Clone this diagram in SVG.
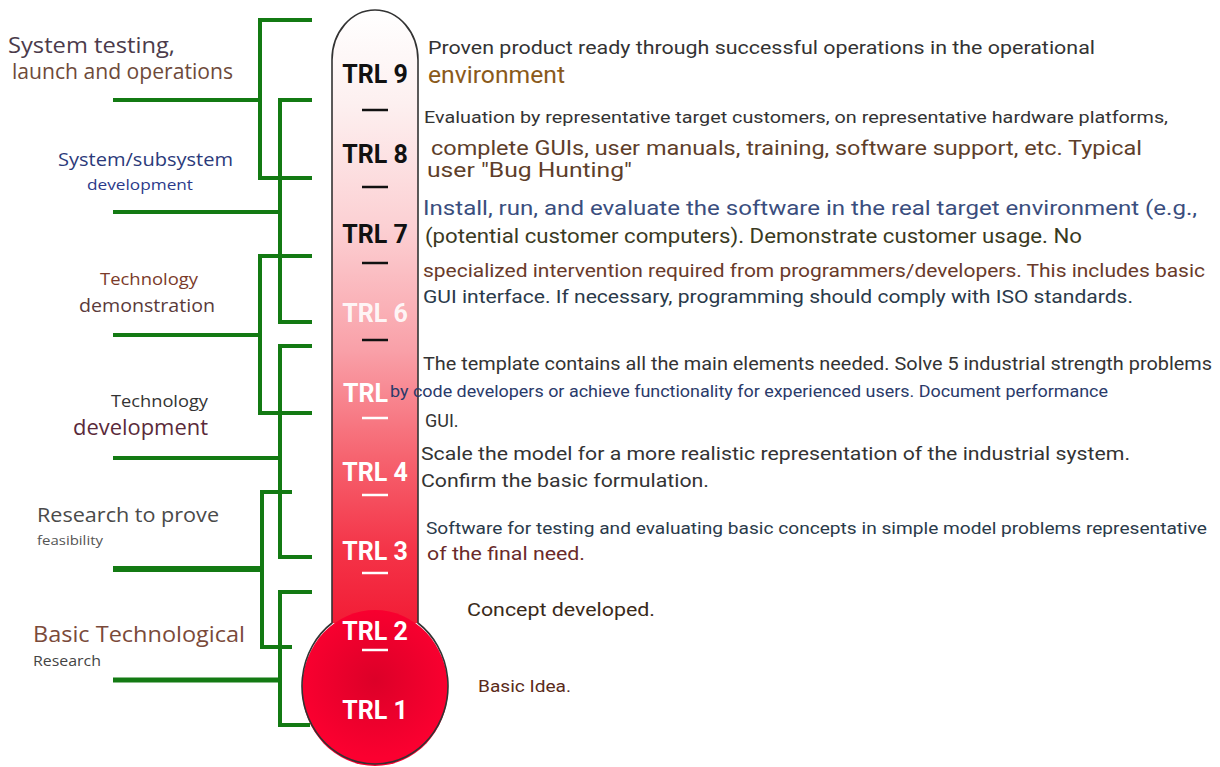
<svg xmlns="http://www.w3.org/2000/svg" width="1220" height="767" viewBox="0 0 1220 767">
<defs>
<linearGradient id="tube" x1="0" y1="10" x2="0" y2="630" gradientUnits="userSpaceOnUse">
<stop offset="0" stop-color="#ffffff"/>
<stop offset="0.15" stop-color="#fdf0f0"/>
<stop offset="0.35" stop-color="#fcd0d3"/>
<stop offset="0.55" stop-color="#f9a0a8"/>
<stop offset="0.72" stop-color="#f66470"/>
<stop offset="0.87" stop-color="#f43448"/>
<stop offset="1" stop-color="#f21a34"/>
</linearGradient>
<radialGradient id="bulb" cx="375" cy="680" r="78" gradientUnits="userSpaceOnUse">
<stop offset="0" stop-color="#dc0028"/>
<stop offset="1" stop-color="#fb0030"/>
</radialGradient>
<style>
.g{stroke:#137a13;stroke-width:4;fill:none;stroke-linecap:butt}
.trl{font-family:Roboto,"Liberation Sans",sans-serif;font-weight:bold;font-size:25px;text-anchor:middle}
.dk{fill:#111}
.wt{fill:#fff}
.dash{stroke-width:2.5}
.lbl{font-family:"Open Sans",Roboto,sans-serif}
.desc{font-family:Roboto,"Liberation Sans",sans-serif}
</style>
</defs>
<rect width="1220" height="767" fill="#fff"/>

<g id="connectors">
<polyline class="g" points="312,20 260,20 260,178 312,178"/>
<line class="g" x1="113" y1="100" x2="260" y2="100"/>
<polyline class="g" points="312,100 280,100 280,322 312,322"/>
<line class="g" x1="113" y1="212" x2="280" y2="212"/>
<polyline class="g" points="312,256 260,256 260,413 312,413"/>
<line class="g" x1="113" y1="335" x2="260" y2="335"/>
<polyline class="g" points="312,346 280,346 280,557 312,557"/>
<line class="g" x1="113" y1="458" x2="280" y2="458"/>
<polyline class="g" points="292,492 262,492 262,647 292,647"/>
<line class="g" x1="113" y1="569" x2="262" y2="569" style="stroke-width:6"/>
<polyline class="g" points="312,592 280,592 280,725 310,725"/>
<line class="g" x1="113" y1="680" x2="280" y2="680" style="stroke-width:5"/>
</g>

<g id="thermometer">
<path d="M332,623 L332,60 A43,50 0 0 1 418,60 L418,623 Z" fill="url(#tube)"/>
<ellipse cx="375" cy="688" rx="73" ry="78" fill="url(#bulb)"/>
<path d="M332,623 L332,60 A43,50 0 0 1 418,60 L418,623 A73,78 0 1 1 332,623 Z" fill="none" stroke="#333" stroke-width="1.6"/>
<g class="dash" stroke="#111">
<line x1="362" y1="110" x2="388" y2="110"/>
<line x1="362" y1="187" x2="388" y2="187"/>
<line x1="362" y1="263" x2="388" y2="263"/>
<line x1="362" y1="340" x2="388" y2="340"/>
</g>
<g class="dash" stroke="#fff">
<line x1="362" y1="418" x2="388" y2="418"/>
<line x1="362" y1="495" x2="388" y2="495"/>
<line x1="362" y1="573" x2="388" y2="573"/>
<line x1="362" y1="650" x2="388" y2="650"/>
</g>
</g>

<g id="trl9"><text class="trl dk" x="375" y="83">TRL 9</text></g>
<g id="trl8"><text class="trl dk" x="375" y="163">TRL 8</text></g>
<g id="trl7"><text class="trl dk" x="375" y="243">TRL 7</text></g>
<g id="trl6"><text class="trl wt" x="375" y="322" fill-opacity="0.9">TRL 6</text></g>
<g id="trl5"><text class="trl wt" x="343" y="402" style="text-anchor:start">TRL</text></g>
<g id="trl4"><text class="trl wt" x="375" y="481">TRL 4</text></g>
<g id="trl3"><text class="trl wt" x="375" y="560">TRL 3</text></g>
<g id="trl2"><text class="trl wt" x="375" y="640">TRL 2</text></g>
<g id="trl1"><text class="trl wt" x="375" y="719">TRL 1</text></g>

<g id="phase-system-testing" class="lbl">
<text x="8" y="53" font-size="21" fill="#4b3b4b" textLength="167" lengthAdjust="spacingAndGlyphs">System testing,</text>
<text x="12" y="79" font-size="21" fill="#6e4a3a" textLength="221" lengthAdjust="spacingAndGlyphs">launch and operations</text>
</g>
<g id="phase-subsystem" class="lbl">
<text x="58" y="166" font-size="18" fill="#2b3a7a" textLength="175" lengthAdjust="spacingAndGlyphs">System/subsystem</text>
<text x="87" y="190" font-size="15" fill="#2b3a8a" textLength="106" lengthAdjust="spacingAndGlyphs">development</text>
</g>
<g id="phase-tech-demo" class="lbl">
<text x="100" y="285" font-size="17" fill="#7a3a2a" textLength="98" lengthAdjust="spacingAndGlyphs">Technology</text>
<text x="79" y="312" font-size="19" fill="#5a3a3a" textLength="136" lengthAdjust="spacingAndGlyphs">demonstration</text>
</g>
<g id="phase-tech-dev" class="lbl">
<text x="111" y="407" font-size="17" fill="#333" textLength="97" lengthAdjust="spacingAndGlyphs">Technology</text>
<text x="73" y="435" font-size="21" fill="#5a2a3a" textLength="135" lengthAdjust="spacingAndGlyphs">development</text>
</g>
<g id="phase-research" class="lbl">
<text x="37" y="522" font-size="20" fill="#4a4a4a" textLength="182" lengthAdjust="spacingAndGlyphs">Research to prove</text>
<text x="37" y="545" font-size="13" fill="#555" textLength="66" lengthAdjust="spacingAndGlyphs">feasibility</text>
</g>
<g id="phase-basic" class="lbl">
<text x="33" y="642" font-size="22" fill="#7a4a3a" textLength="212" lengthAdjust="spacingAndGlyphs">Basic Technological</text>
<text x="33" y="666" font-size="14" fill="#444" textLength="68" lengthAdjust="spacingAndGlyphs">Research</text>
</g>

<g id="desc9" class="desc">
<text x="428" y="54" font-size="19" fill="#333" textLength="667" lengthAdjust="spacingAndGlyphs">Proven product ready through successful operations in the operational</text>
<text x="428" y="83" font-size="23" fill="#8a5a1a" textLength="137" lengthAdjust="spacingAndGlyphs">environment</text>
</g>
<g id="desc8" class="desc">
<text x="424" y="123" font-size="16.5" fill="#333" textLength="744" lengthAdjust="spacingAndGlyphs">Evaluation by representative target customers, on representative hardware platforms,</text>
<text x="431" y="155" font-size="21" fill="#5e3e2a" textLength="711" lengthAdjust="spacingAndGlyphs">complete GUIs, user manuals, training, software support, etc. Typical</text>
<text x="427" y="177" font-size="21" fill="#5e3e2a" textLength="205" lengthAdjust="spacingAndGlyphs">user "Bug Hunting"</text>
</g>
<g id="desc7" class="desc">
<text x="423" y="215" font-size="20" fill="#3a4e7e" textLength="774" lengthAdjust="spacingAndGlyphs">Install, run, and evaluate the software in the real target environment (e.g.,</text>
<text x="425" y="243" font-size="20" fill="#3a3a22" textLength="657" lengthAdjust="spacingAndGlyphs">(potential customer computers). Demonstrate customer usage. No</text>
</g>
<g id="desc6" class="desc">
<text x="423" y="277" font-size="18" fill="#6a3a2a" textLength="782" lengthAdjust="spacingAndGlyphs">specialized intervention required from programmers/developers. This includes basic</text>
<text x="423" y="303" font-size="18" fill="#2a3a4a" textLength="710" lengthAdjust="spacingAndGlyphs">GUI interface. If necessary, programming should comply with ISO standards.</text>
</g>
<g id="desc5" class="desc">
<text x="423" y="370" font-size="18.5" fill="#333" textLength="789" lengthAdjust="spacingAndGlyphs">The template contains all the main elements needed. Solve 5 industrial strength problems</text>
<text x="390" y="397" font-size="16" fill="#2a3a6a" textLength="718" lengthAdjust="spacingAndGlyphs">by code developers or achieve functionality for experienced users. Document performance</text>
<text x="425" y="427" font-size="18" fill="#333">GUI.</text>
</g>
<g id="desc4" class="desc">
<text x="421" y="460" font-size="19" fill="#333" textLength="709" lengthAdjust="spacingAndGlyphs">Scale the model for a more realistic representation of the industrial system.</text>
<text x="421" y="487" font-size="19" fill="#333" textLength="288" lengthAdjust="spacingAndGlyphs">Confirm the basic formulation.</text>
</g>
<g id="desc3" class="desc">
<text x="426" y="534" font-size="17" fill="#2a3a4a" textLength="781" lengthAdjust="spacingAndGlyphs">Software for testing and evaluating basic concepts in simple model problems representative</text>
<text x="427" y="560" font-size="19" fill="#6a2a2a" textLength="158" lengthAdjust="spacingAndGlyphs">of the final need.</text>
</g>
<g id="desc2" class="desc">
<text x="467" y="616" font-size="18" fill="#3a2a1a" textLength="188" lengthAdjust="spacingAndGlyphs">Concept developed.</text>
</g>
<g id="desc1" class="desc">
<text x="478" y="692" font-size="16" fill="#5a2a1a" textLength="93" lengthAdjust="spacingAndGlyphs">Basic Idea.</text>
</g>
</svg>
